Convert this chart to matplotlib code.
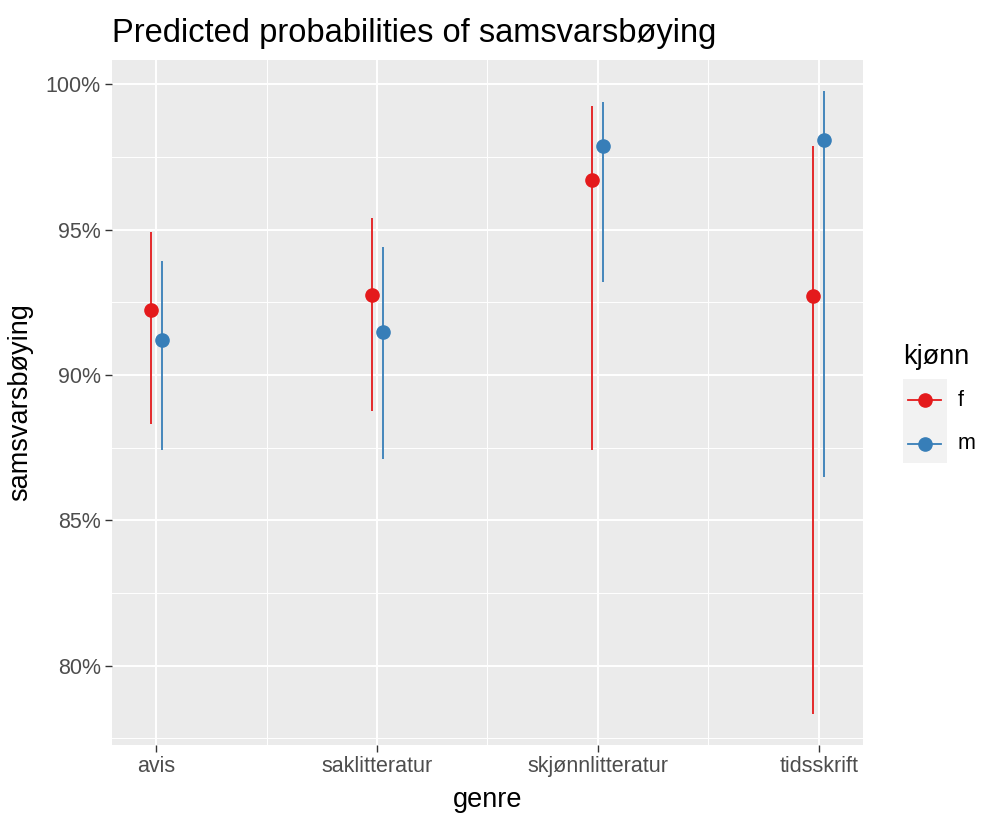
import matplotlib
matplotlib.use("Agg")
import matplotlib.pyplot as plt
import matplotlib.patches as mp
from matplotlib.lines import Line2D
import numpy as np

plt.rcParams["font.family"] = ["Liberation Sans", "DejaVu Sans"]

# data (percent)
genres = ["avis", "saklitteratur", "skjønnlitteratur", "tidsskrift"]
groups = ["f", "m"]
colors = ["#E41A1C", "#377EB8"]
pred_f = [92.24, 92.76, 96.72, 92.72]
low_f = [88.31, 88.76, 87.41, 78.34]
high_f = [94.93, 95.41, 99.24, 97.86]
pred_m = [91.21, 91.48, 97.86, 98.07]
low_m = [87.41, 87.10, 93.21, 86.48]
high_m = [93.93, 94.41, 99.38, 99.76]

preds = [pred_f, pred_m]
lows = [low_f, low_m]
highs = [high_f, high_m]

W, H = 982, 814
fig = plt.figure(figsize=(W / 100, H / 100), dpi=100)
fig.patch.set_facecolor("white")

# panel position in pixels
left, right, top, bottom = 112, 863, 60, 745
ax = fig.add_axes([left / W, 1 - bottom / H, (right - left) / W, (bottom - top) / H])
ax.set_facecolor("#EBEBEB")

x = np.arange(len(genres))
dodge = 0.025
for i, g in enumerate(groups):
    xs = x + (i - 0.5) * 2 * dodge
    ax.vlines(xs, lows[i], highs[i], color=colors[i], lw=1.3, zorder=3)
    ax.plot(xs, preds[i], "o", color=colors[i], markersize=9.5, zorder=4)

allv = low_f + low_m + high_f + high_m
lo, hi = min(allv), max(allv)
pad = 0.05 * (hi - lo)
ax.set_ylim(lo - pad, hi + pad)
ax.set_xlim(-0.2, len(genres) - 0.8)

ax.set_yticks([80, 85, 90, 95, 100])
ax.set_yticklabels(["80%", "85%", "90%", "95%", "100%"])
ax.set_yticks([77.5, 82.5, 87.5, 92.5, 97.5], minor=True)
ax.set_xticks(x)
ax.set_xticklabels(genres)
ax.set_xticks(x[:-1] + 0.5, minor=True)

ax.grid(which="major", color="white", lw=1.4, zorder=0)
ax.grid(which="minor", color="white", lw=0.7, zorder=0)
ax.set_axisbelow(True)
for s in ax.spines.values():
    s.set_visible(False)
ax.tick_params(which="major", length=5, width=1, color="#333333",
               labelsize=15.5, labelcolor="#4D4D4D", pad=3)
ax.tick_params(which="minor", length=0)

fig.text(left / W, 1 - 42 / H, "Predicted probabilities of samsvarsbøying",
         fontsize=23.5, ha="left", va="baseline", color="black")
fig.text(20 / W, 1 - ((top + bottom) / 2) / H, "samsvarsbøying", rotation=90,
         fontsize=19.5, ha="center", va="center")
fig.text(((left + right) / 2) / W, 1 - 800 / H, "genre",
         fontsize=19.5, ha="center", va="center")

# legend (ggplot style)
fig.text(903 / W, 1 - 357 / H, "kjønn", fontsize=19.5, ha="left", va="center")
fig.patches.append(mp.Rectangle((903 / W, 1 - 463 / H), 44 / W, 84 / H,
                                transform=fig.transFigure, facecolor="#F2F2F2",
                                edgecolor="none"))
for i, g in enumerate(groups):
    yc = 1 - (400 + i * 44) / H
    fig.add_artist(Line2D([908 / W, 941 / W], [yc, yc], transform=fig.transFigure,
                          color=colors[i], lw=1.3))
    fig.add_artist(Line2D([925 / W], [yc], transform=fig.transFigure, marker="o",
                          color=colors[i], markersize=9.5))
    fig.text(958 / W, yc, g, fontsize=15.5, ha="left", va="center")

fig.savefig("out.png", dpi=100)
